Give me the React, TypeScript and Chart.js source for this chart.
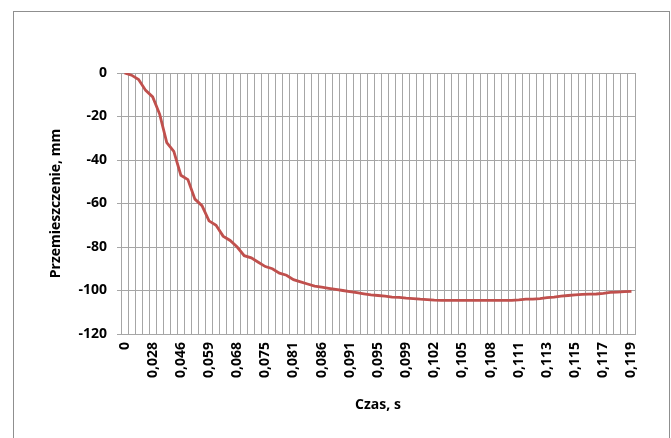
import React, { useEffect, useRef } from "react";
import { Chart, registerables } from "chart.js";

Chart.register(...registerables);

// Category tick labels (every 4th category carries a label)
const TIME_TICK_LABELS: string[] = [
  "0", "0,028", "0,046", "0,059", "0,068", "0,075", "0,081", "0,086", "0,091", "0,095",
  "0,099", "0,102", "0,105", "0,108", "0,111", "0,113", "0,115", "0,117", "0,119",
];
const LABEL_EVERY = 4;

// Displacement (mm) per category
const DISPLACEMENT: number[] = [
  0, -1, -3, -8, -11, -19, -32, -36, -47, -49,
  -58, -61, -68, -70, -75, -77, -80, -84, -85, -87,
  -89, -90, -92, -93, -95, -96, -97, -98, -98.5, -99,
  -99.5, -100, -100.5, -101, -101.5, -102, -102.3, -102.6, -103, -103.2,
  -103.5, -103.7, -104, -104.2, -104.4, -104.5, -104.5, -104.5, -104.5, -104.5,
  -104.5, -104.5, -104.5, -104.5, -104.5, -104.5, -104.3, -104, -104, -103.7,
  -103.3, -103, -102.6, -102.3, -102, -101.8, -101.7, -101.6, -101.3, -100.9,
  -100.7, -100.5, -100.4,
];

const Y_MIN = -120;
const Y_MAX = 0;
const Y_STEP = 20;

const X_TITLE = "Czas, s";
const Y_TITLE = "Przemieszczenie, mm";

const FONT = "'Open Sans', Lato, 'Liberation Sans', sans-serif";
const GRID = "#a6a6a6";

const frame = {
  id: "frame",
  beforeDraw(chart: any) {
    const { ctx, width, height } = chart;
    ctx.save();
    ctx.fillStyle = "#ffffff";
    ctx.fillRect(0, 0, width, height);
    ctx.strokeStyle = "#8f8f8f";
    ctx.lineWidth = 1;
    ctx.strokeRect(13.5, 11.5, 656, height + 10);
    ctx.restore();
  },
};

export default function App() {
  const ref = useRef<HTMLCanvasElement | null>(null);
  useEffect(() => {
    if (!ref.current) return;
    const labels = DISPLACEMENT.map((_, i) =>
      i % LABEL_EVERY === 0 ? TIME_TICK_LABELS[i / LABEL_EVERY] ?? "" : ""
    );
    const chart = new Chart(ref.current, {
      type: "line",
      data: {
        labels,
        datasets: [
          {
            data: DISPLACEMENT,
            borderColor: "#c0504d",
            borderWidth: 2.8,
            pointRadius: 0,
            tension: 0,
            fill: false,
          },
        ],
      },
      plugins: [frame],
      options: {
        animation: false,
        responsive: false,
        maintainAspectRatio: false,
        layout: { padding: { left: 44, top: 73, right: 36, bottom: 21 } },
        plugins: { legend: { display: false }, tooltip: { enabled: false } },
        scales: {
          x: {
            type: "category",
            offset: true,
            grid: { color: GRID, offset: true, drawTicks: false, lineWidth: 1 },
            border: { color: GRID },
            ticks: {
              autoSkip: false,
              minRotation: 90,
              maxRotation: 90,
              padding: 8,
              color: "#000",
              font: { family: FONT, size: 14, weight: "bold" },
            },
            title: {
              display: true,
              text: X_TITLE,
              color: "#000",
              font: { family: FONT, size: 14, weight: "bold" },
            },
            afterFit(scale: any) {
              scale.height = 83;
            },
          },
          y: {
            min: Y_MIN,
            max: Y_MAX,
            grid: { color: GRID, tickLength: 4, lineWidth: 1 },
            border: { color: GRID },
            ticks: {
              stepSize: Y_STEP,
              padding: 10,
              color: "#000",
              font: { family: FONT, size: 14, weight: "bold" },
            },
            title: {
              display: true,
              text: Y_TITLE,
              color: "#000",
              font: { family: FONT, size: 14, weight: "bold" },
            },
            afterFit(scale: any) {
              scale.width = 77;
            },
          },
        },
      },
    });
    return () => chart.destroy();
  }, []);
  return (
    <div style={{ position: "fixed", left: 0, top: 0, width: 671, height: 438 }}>
      <canvas ref={ref} width={671} height={438} style={{ width: 671, height: 438 }} />
    </div>
  );
}
